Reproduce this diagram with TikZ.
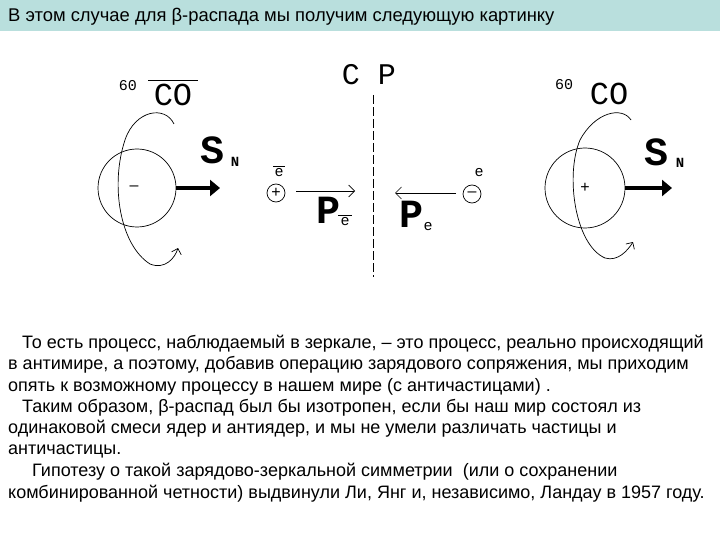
\documentclass[tikz,border=0pt]{standalone}
\usepackage{fontspec}
\setmainfont{Liberation Sans}
\newfontfamily\mono{Liberation Mono}
\newfontfamily\ser{Liberation Serif}
\usetikzlibrary{arrows.meta}
\definecolor{band}{HTML}{B9DFDD}
\begin{document}
\begin{tikzpicture}[x=1pt,y=-1pt,
  txt/.style={anchor=base west,inner sep=0pt,font=\fontsize{18}{20}\selectfont},
  lbl/.style={inner sep=0pt,font=\mono\fontsize{32}{34}\selectfont},
  sup/.style={inner sep=0pt,font=\mono\fontsize{15}{16}\selectfont},
  bigv/.style={inner sep=0pt,font=\mono\bfseries\fontsize{40}{40}\selectfont},
  sub/.style={inner sep=0pt,font=\mono\fontsize{15}{15}\selectfont},
  subb/.style={inner sep=0pt,font=\mono\bfseries\fontsize{14}{14}\selectfont},
  thin/.style={line width=0.7pt},
  spin/.style={line width=4pt,-{Triangle[length=10pt,width=16pt]}},
  orbit/.style={line width=0.7pt,-{Straight Barb[length=5pt]}}]
\useasboundingbox (0,0) rectangle (720,540);
\fill[white] (0,0) rectangle (720,540);
\fill[band] (0,0) rectangle (720,31);
\node[txt,font=\fontsize{18.4}{20}\selectfont] (h) at (8,22) {В этом случае для β-распада мы получим следующую картинку};
% left nucleus
\node[draw,circle,thin,minimum size=78pt,inner sep=0pt] (cl) at (137,188) {};
\node[inner sep=0pt,font=\fontsize{16}{16}\selectfont] (ml) at (134,188) {–};
\draw[spin] (cl.east) -- (220,188) coordinate (al);
\node[bigv] (snl) at (212,150) {S};
\node[subb] (snls) at (235,162) {N};
\node[sup] (l60) at (128,86) {60};
\node[lbl] (lco) at (173,95) {CO};
\draw[thin] (148,80) -- (198,80);
\draw[orbit] (174,124) .. controls (165,105) and (135,110) .. (125,140)
  .. controls (110,185) and (120,245) .. (150,264)
  .. controls (165,270) and (175,258) .. (178,248);
% positron
\node[draw,circle,thin,minimum size=18pt,inner sep=0pt,font=\fontsize{16}{16}\selectfont] (pp) at (276,193) {+};
\node[sub] (eb) at (279,173) {e};
\draw[thin] (273,166) -- (285,166);
\coordinate (pa) at (355,191);
\draw[thin,-{Straight Barb[length=6pt]}] (296,191) -- (pa);
\node[bigv] (pel) at (328,210) {P};
\node[sub] (pels) at (345,222) {e};
\draw[thin] (338,215) -- (352,215);
% mirror
\node[lbl,font=\mono\fontsize{30}{32}\selectfont] (cp) at (369,75) {C P};
\coordinate (m1) at (373,95); \coordinate (m2) at (373,277);
\draw[thin,dash pattern=on 9pt off 3pt] (m1) -- (m2);
% electron
\node[draw,circle,thin,minimum size=18pt,inner sep=0pt,font=\fontsize{16}{16}\selectfont] (em) at (472,194) {–};
\node[sub] (ee) at (479,173) {e};
\coordinate (ea) at (395,193);
\draw[thin,-{Straight Barb[length=6pt]}] (456,193) -- (ea);
\node[bigv] (per) at (411,214) {P};
\node[sub] (pers) at (428,227) {e};
% right nucleus
\node[draw,circle,thin,minimum size=80pt,inner sep=0pt] (cr) at (585,188) {};
\node[inner sep=0pt,font=\fontsize{16}{16}\selectfont] (pr) at (585,188) {+};
\draw[spin] (cr.east) -- (672,188) coordinate (ar);
\node[bigv] (snr) at (656,152) {S};
\node[subb] (snrs) at (680,163) {N};
\node[sup] (r60) at (564,85) {60};
\node[lbl] (rco) at (609,94) {CO};
\draw[orbit] (631,120) .. controls (622,106) and (595,112) .. (580,140)
  .. controls (565,175) and (575,245) .. (605,258)
  .. controls (618,262) and (628,250) .. (633,242);
% body
\node[txt] (t1) at (22,348) {То есть процесс, наблюдаемый в зеркале, – это процесс, реально происходящий};
\node[txt] (t2) at (8,369) {в антимире, а поэтому, добавив операцию зарядового сопряжения, мы приходим};
\node[txt] (t3) at (8,391) {опять к возможному процессу в нашем мире (с античастицами) .};
\node[txt] (t4) at (22,412) {Таким образом, β-распад был бы изотропен, если бы наш мир состоял из};
\node[txt] (t5) at (8,433) {одинаковой смеси ядер и антиядер, и мы не умели различать частицы и};
\node[txt] (t6) at (8,454) {античастицы.};
\node[txt] (t7) at (32,476) {Гипотезу о такой зарядово-зеркальной симметрии\ \ (или о сохранении};
\node[txt] (t8) at (8,498) {комбинированной четности) выдвинули Ли, Янг и, независимо, Ландау в 1957 году.};
\end{tikzpicture}
\end{document}
